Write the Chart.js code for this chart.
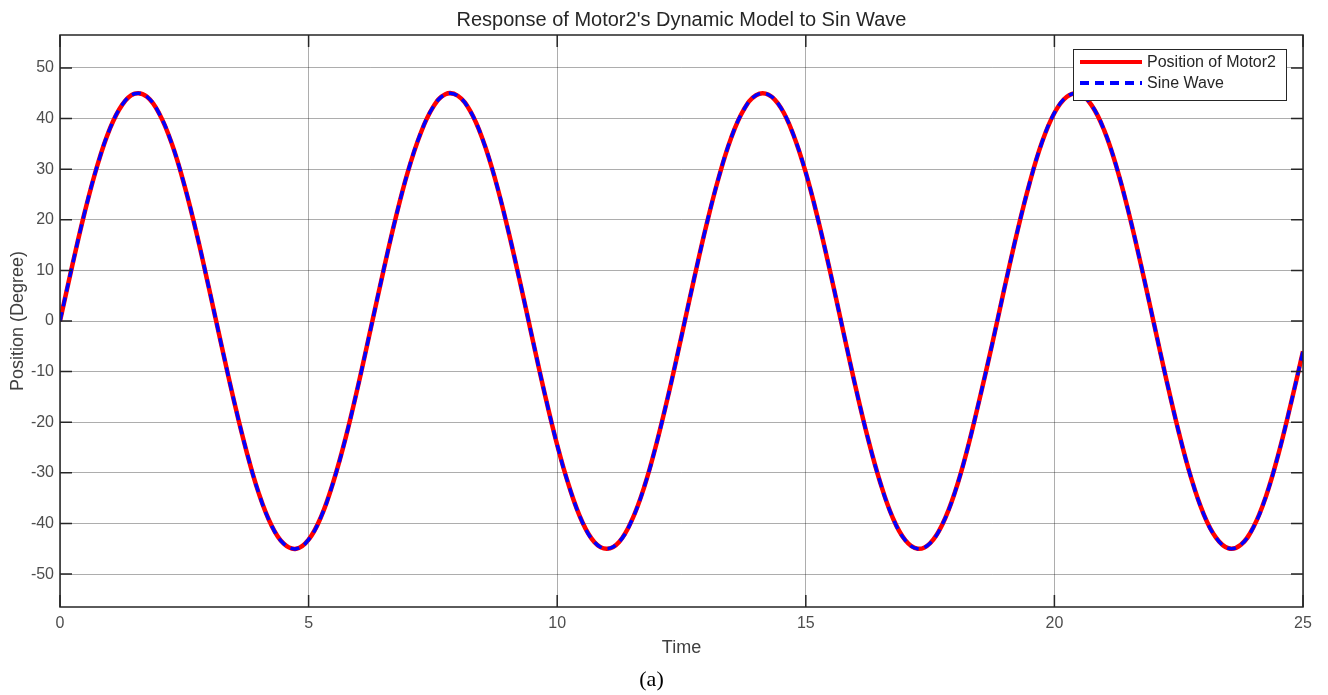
<!DOCTYPE html>
<html>
<head>
<meta charset="utf-8">
<script src="https://cdn.jsdelivr.net/npm/chart.js@4/dist/chart.umd.min.js"></script>
<style>
  html, body { margin: 0; padding: 0; background: #fff; }
  #wrap { width: 1328px; height: 695px; }
</style>
</head>
<body>
<div id="wrap"><canvas id="motor-chart"></canvas></div>
<script>
// Time axis samples (s)
var timeValues = [];
for (var i = 0; i <= 100; i++) { timeValues.push(i * 0.25); }

// Position of Motor2 (degrees), every 0.25 s
var motorPosition = [
    0.0, 11.1, 21.6, 30.7, 37.9, 42.7, 44.9, 44.3, 40.9, 35.0,
    26.9, 17.2, 6.3, -4.9, -15.8, -25.7, -34.1, -40.3, -44.0, -45.0,
    -43.2, -38.7, -31.7, -22.9, -12.6, -1.5, 9.7, 20.3, 29.6, 37.0,
    42.2, 44.8, 44.5, 41.5, 35.9, 28.1, 18.5, 7.8, -3.4, -14.4,
    -24.5, -33.0, -39.6, -43.7, -45.0, -43.6, -39.4, -32.8, -24.1, -14.0,
    -3.0, 8.2, 18.9, 28.4, 36.2, 41.7, 44.6, 44.7, 42.1, 36.8,
    29.3, 19.9, 9.3, -1.9, -13.0, -23.2, -32.0, -38.9, -43.3, -45.0,
    -43.9, -40.1, -33.8, -25.3, -15.2, -4.5, 6.7, 17.5, 27.2, 35.3,
    41.1, 44.3, 44.9, 42.6, 37.7, 30.4, 21.2, 10.7, -0.4, -11.5,
    -21.9, -31.0, -38.1, -42.8, -44.9, -44.2, -40.8, -34.8, -26.5, -16.6,
    -6.0
];

// Reference sine wave (degrees)
var sineWave = [
    0.0, 11.1, 21.6, 30.7, 37.9, 42.7, 44.9, 44.3, 40.9, 35.0,
    26.9, 17.2, 6.3, -4.9, -15.8, -25.7, -34.1, -40.3, -44.0, -45.0,
    -43.2, -38.7, -31.7, -22.9, -12.6, -1.5, 9.7, 20.3, 29.6, 37.0,
    42.2, 44.8, 44.5, 41.5, 35.9, 28.1, 18.5, 7.8, -3.4, -14.4,
    -24.5, -33.0, -39.6, -43.7, -45.0, -43.6, -39.4, -32.8, -24.1, -14.0,
    -3.0, 8.2, 18.9, 28.4, 36.2, 41.7, 44.6, 44.7, 42.1, 36.8,
    29.3, 19.9, 9.3, -1.9, -13.0, -23.2, -32.0, -38.9, -43.3, -45.0,
    -43.9, -40.1, -33.8, -25.3, -15.2, -4.5, 6.7, 17.5, 27.2, 35.3,
    41.1, 44.3, 44.9, 42.6, 37.7, 30.4, 21.2, 10.7, -0.4, -11.5,
    -21.9, -31.0, -38.1, -42.8, -44.9, -44.2, -40.8, -34.8, -26.5, -16.6,
    -6.0
];

var xTicks = [0, 5, 10, 15, 20, 25];
var yTicks = [-50, -40, -30, -20, -10, 0, 10, 20, 30, 40, 50];

function toPoints(xs, ys) {
    return xs.map(function (x, i) { return { x: x, y: ys[i] }; });
}

// frame + inner tick marks, MATLAB style
var framePlugin = {
    id: 'frame',
    afterDatasetsDraw: function (chart) {
        var a = chart.chartArea, c = chart.ctx;
        var xs = chart.scales.x, ys = chart.scales.y;
        c.save();
        c.strokeStyle = '#262626';
        c.lineWidth = 1.5;
        c.strokeRect(a.left, a.top, a.right - a.left, a.bottom - a.top);
        c.beginPath();
        xTicks.forEach(function (v) {
            var px = xs.getPixelForValue(v);
            c.moveTo(px, a.bottom); c.lineTo(px, a.bottom - 12);
            c.moveTo(px, a.top); c.lineTo(px, a.top + 12);
        });
        yTicks.forEach(function (v) {
            var py = ys.getPixelForValue(v);
            c.moveTo(a.left, py); c.lineTo(a.left + 12, py);
            c.moveTo(a.right, py); c.lineTo(a.right - 12, py);
        });
        c.stroke();
        c.restore();
    }
};

// boxed legend in the top-right corner of the plot
var boxLegendPlugin = {
    id: 'boxLegend',
    afterDraw: function (chart) {
        var a = chart.chartArea, c = chart.ctx;
        var w = 213, h = 51;
        var x0 = a.right - 17 - w, y0 = a.top + 14;
        c.save();
        c.fillStyle = '#fff';
        c.fillRect(x0, y0, w, h);
        c.strokeStyle = '#262626';
        c.lineWidth = 1;
        c.strokeRect(x0 + 0.5, y0 + 0.5, w, h);
        chart.data.datasets.forEach(function (ds, i) {
            var cy = y0 + 13 + i * 21;
            c.beginPath();
            c.strokeStyle = ds.borderColor;
            c.lineWidth = 4;
            c.setLineDash(ds.borderDash || []);
            c.moveTo(x0 + 7, cy);
            c.lineTo(x0 + 69, cy);
            c.stroke();
            c.setLineDash([]);
            c.fillStyle = '#262626';
            c.font = '16px "Liberation Sans", Arial, sans-serif';
            c.textBaseline = 'middle';
            c.fillText(ds.label, x0 + 74, cy + 1);
        });
        c.restore();
    }
};

var ctx = document.getElementById('motor-chart');

var chartData = {
    datasets: [{
        label: 'Position of Motor2',
        data: toPoints(timeValues, motorPosition),
        borderColor: '#ff0000',
        borderWidth: 4.5,
        order: 1
    }, {
        label: 'Sine Wave',
        data: toPoints(timeValues, sineWave),
        borderColor: '#0000ff',
        borderWidth: 3.5,
        borderDash: [9, 6],
        order: 0
    }]
};

var chartOptions = {
    responsive: true,
    maintainAspectRatio: false,
    animation: false,
    layout: { padding: { left: 0, right: 25, top: 0, bottom: 0 } },
    elements: {
        point: { radius: 0 },
        line: { tension: 0.4, fill: false }
    },
    plugins: {
        legend: { display: false },
        tooltip: { enabled: false },
        title: {
            display: true,
            text: "Response of Motor2's Dynamic Model to Sin Wave",
            fullSize: false,
            color: '#262626',
            font: { family: '"Liberation Sans", Arial, sans-serif', size: 20, weight: 'normal' },
            padding: { top: 8, bottom: 3 }
        },
        subtitle: {
            display: true,
            position: 'bottom',
            text: '(a)',
            color: '#000',
            font: { family: '"Liberation Serif", "Times New Roman", serif', size: 22, weight: 'normal' },
            padding: { top: 2, bottom: 1.6 }
        }
    },
    scales: {
        x: {
            type: 'linear',
            min: 0,
            max: 25,
            afterBuildTicks: function (s) { s.ticks = xTicks.map(function (v) { return { value: v }; }); },
            afterFit: function (s) { s.height = 58; },
            grid: { color: 'rgba(0,0,0,0.32)', drawTicks: false },
            border: { display: false },
            ticks: {
                padding: 7,
                color: '#4d4d4d',
                font: { family: '"Liberation Sans", Arial, sans-serif', size: 16 },
                maxRotation: 0
            },
            title: {
                display: true,
                text: 'Time',
                color: '#404040',
                font: { family: '"Liberation Sans", Arial, sans-serif', size: 18 },
                padding: { top: 0, bottom: 6 }
            }
        },
        y: {
            min: -56.5,
            max: 56.5,
            afterBuildTicks: function (s) { s.ticks = yTicks.map(function (v) { return { value: v }; }); },
            afterFit: function (s) { s.width = 60; },
            grid: { color: 'rgba(0,0,0,0.32)', drawTicks: false },
            border: { display: false },
            ticks: {
                padding: 6,
                color: '#4d4d4d',
                font: { family: '"Liberation Sans", Arial, sans-serif', size: 16 }
            },
            title: {
                display: true,
                text: 'Position (Degree)',
                color: '#404040',
                font: { family: '"Liberation Sans", Arial, sans-serif', size: 18 },
                padding: { top: 7, bottom: 0 }
            }
        }
    }
};

var config = {
    type: 'line',
    options: chartOptions,
    data: chartData,
    plugins: [framePlugin, boxLegendPlugin]
};

var motorChart = new Chart(ctx, config);
</script>
</body>
</html>
